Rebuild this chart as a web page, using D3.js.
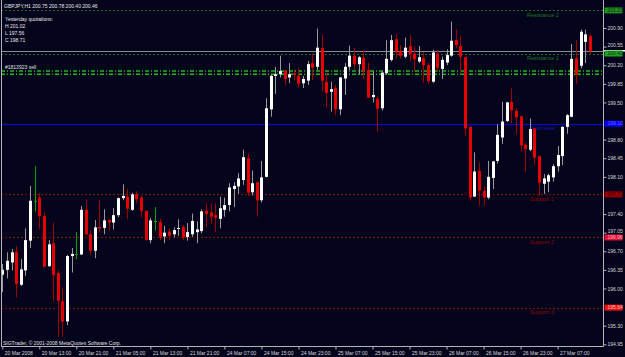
<!DOCTYPE html>
<html>
<head>
<meta charset="utf-8">
<script src="https://cdn.jsdelivr.net/npm/d3@7"></script>
<style>
body { margin: 0; background: #04041c; overflow: hidden; }
svg { display: block; }
text { font-family: 'Liberation Sans', Arial, sans-serif; }
</style>
</head>
<body>
<div id="mainDiv"></div>
<script>
'use strict';

// time axis labels, one every 8 H1 bars
var timeLabels = ['20 Mar 2008', '20 Mar 13:00', '20 Mar 21:00', '21 Mar 05:00', '21 Mar 13:00', '21 Mar 21:00',
    '24 Mar 07:00', '24 Mar 15:00', '24 Mar 23:00', '25 Mar 07:00', '25 Mar 15:00', '25 Mar 23:00',
    '26 Mar 07:00', '26 Mar 15:00', '26 Mar 23:00', '27 Mar 07:00'];

// GBPJPY H1 bars
var opens = [
    196.26, 196.35, 196.49, 196.69, 196.07, 196.34, 196.90, 197.64, 197.71, 197.36,
    196.42, 196.85, 196.29, 195.76, 195.38, 196.61, 196.64, 196.64, 197.48, 197.02,
    196.71, 197.16, 197.14, 197.29, 197.24, 197.38, 197.70, 197.73, 197.48, 197.77,
    197.71, 197.46, 196.91, 197.26, 197.25, 196.98, 197.07, 197.02, 197.12, 197.16,
    196.97, 197.02, 197.06, 197.08, 197.46, 197.43, 197.38, 197.31, 197.48, 197.57,
    197.87, 197.92, 198.04, 198.45, 197.81, 198.00, 197.66, 198.10, 199.37, 200.00,
    200.03, 200.10, 199.97, 200.05, 200.00, 199.86, 199.91, 200.24, 200.17, 200.52,
    199.89, 199.70, 199.77, 199.37, 199.95, 200.17, 200.38, 200.22, 200.34, 200.11,
    199.60, 199.57, 199.39, 200.05, 200.30, 200.69, 200.47, 200.36, 200.56, 200.42,
    200.27, 200.33, 200.20, 199.89, 200.42, 200.13, 200.25, 200.38, 200.67, 200.56,
    200.35, 199.04, 197.73, 198.21, 197.84, 197.71, 198.08, 198.40, 198.84, 199.15,
    199.51, 199.34, 199.24, 198.70, 198.61, 199.01, 198.49, 197.97, 198.01, 198.09,
    198.30, 198.49, 199.04, 199.23, 200.33, 200.19, 200.64, 200.75];
var highs = [
    196.46, 196.68, 196.74, 196.80, 196.55, 197.13, 197.93, 198.30, 197.79, 197.44,
    196.91, 197.24, 196.34, 196.02, 196.63, 196.76, 197.06, 197.55, 197.68, 197.09,
    197.29, 197.66, 197.49, 197.30, 197.51, 197.71, 197.96, 197.87, 197.80, 197.83,
    197.74, 197.47, 197.33, 197.53, 197.31, 197.18, 197.13, 197.15, 197.30, 197.19,
    197.23, 197.41, 197.26, 197.49, 197.61, 197.60, 197.61, 197.73, 197.71, 197.98,
    198.00, 198.17, 198.61, 198.55, 198.22, 198.01, 198.40, 199.58, 200.02, 200.17,
    200.38, 200.11, 200.24, 200.11, 200.14, 200.00, 200.28, 200.42, 200.89, 200.78,
    200.05, 199.89, 199.83, 199.98, 200.24, 200.57, 200.53, 200.37, 200.49, 200.25,
    200.09, 199.61, 200.09, 200.67, 200.77, 200.79, 200.58, 200.72, 200.77, 200.55,
    200.56, 200.45, 200.24, 200.49, 200.49, 200.36, 200.50, 201.02, 200.88, 200.74,
    200.36, 199.05, 198.56, 198.37, 197.93, 198.40, 198.40, 199.09, 199.51, 199.51,
    199.77, 199.38, 199.25, 198.74, 199.20, 199.02, 198.50, 198.15, 198.16, 198.34,
    198.68, 199.05, 199.28, 200.60, 200.67, 200.87, 200.87, 200.78];
var lows = [
    195.93, 196.19, 196.34, 195.83, 196.05, 196.24, 196.76, 197.45, 197.12, 196.40,
    196.41, 195.75, 195.09, 195.09, 195.31, 196.30, 196.55, 196.63, 197.01, 196.63,
    196.57, 197.05, 197.02, 197.09, 197.11, 197.34, 197.66, 197.30, 197.46, 197.60,
    197.34, 196.90, 196.85, 197.09, 196.91, 196.85, 196.91, 196.96, 196.99, 196.91,
    196.90, 196.97, 196.85, 197.04, 197.16, 197.21, 197.06, 197.13, 197.35, 197.45,
    197.53, 197.78, 197.95, 197.74, 197.75, 197.35, 197.62, 198.09, 199.23, 199.66,
    199.97, 199.82, 199.86, 199.92, 199.78, 199.77, 199.83, 199.92, 200.11, 199.70,
    199.41, 199.33, 199.26, 199.26, 199.64, 200.11, 200.12, 200.02, 199.94, 199.58,
    199.50, 198.95, 199.35, 200.02, 200.27, 200.33, 200.32, 200.33, 200.27, 200.08,
    200.24, 199.87, 199.85, 199.87, 200.08, 199.94, 200.20, 200.36, 200.52, 200.05,
    198.87, 197.65, 197.72, 197.56, 197.55, 197.68, 197.87, 198.35, 198.72, 199.13,
    199.11, 198.90, 198.59, 198.20, 198.58, 198.32, 197.75, 197.78, 197.81, 198.01,
    198.20, 198.32, 198.91, 199.22, 199.85, 200.14, 200.24, 200.40];
var closes = [
    196.35, 196.52, 196.68, 196.08, 196.36, 196.91, 197.65, 197.64, 197.36, 196.41,
    196.83, 196.25, 195.77, 195.38, 196.61, 196.65, 196.64, 197.48, 197.02, 196.71,
    197.15, 197.13, 197.28, 197.24, 197.38, 197.70, 197.74, 197.50, 197.77, 197.68,
    197.46, 196.91, 197.28, 197.26, 196.96, 197.05, 196.99, 197.10, 197.14, 196.96,
    197.06, 197.27, 197.11, 197.45, 197.40, 197.35, 197.33, 197.51, 197.57, 197.90,
    197.93, 198.07, 198.47, 197.80, 197.98, 197.66, 198.09, 199.39, 200.00, 200.03,
    200.09, 199.94, 200.03, 200.02, 199.85, 199.94, 200.22, 200.15, 200.53, 199.91,
    199.68, 199.75, 199.37, 199.97, 200.17, 200.38, 200.22, 200.35, 200.09, 199.59,
    199.64, 199.38, 200.06, 200.32, 200.67, 200.44, 200.38, 200.53, 200.41, 200.31,
    200.35, 200.20, 199.90, 200.44, 200.15, 200.30, 200.39, 200.66, 200.58, 200.36,
    199.01, 197.71, 198.20, 197.84, 197.71, 198.10, 198.39, 198.89, 199.14, 199.50,
    199.35, 199.22, 198.69, 198.62, 199.00, 198.46, 197.99, 198.07, 198.13, 198.30,
    198.51, 199.04, 199.26, 200.32, 200.02, 200.83, 200.78, 200.46];

// price scale ticks
var priceTicks = [194.95, 195.30, 195.65, 196.00, 196.35, 196.70, 197.05, 197.40, 197.75, 198.10,
    198.45, 198.80, 199.15, 199.50, 199.85, 200.20, 200.55, 200.90, 201.25];

// pivot indicator levels
var levelNames  = ['Resistance 2', 'Resistance 1', 'Pivot level', 'Support 1', 'Support 2', 'Support 3'];
var levelValues = [201.23, 200.42, 199.10, 197.77, 196.96, 195.64];

var bidPrice = 200.46;
var orderPrices = [200.09, 200.03];
var orderLabel = '#1813923 sell';
var titleText = 'GBPJPY,H1  200.75 200.78 200.40 200.46';
var infoLines = ['Yesterday quotations:', 'H 201.02', 'L 197.56', 'C 198.71'];
var copyText = 'SIGTrader, \u00a9 2001-2008 MetaQuotes Software Corp.';

var mt4 = {};

mt4.w = 625;
mt4.h = 357;
mt4.axisX = 603.5;   // price axis line
mt4.axisY = 346.5;   // time axis line
mt4.bodyW = 3;
mt4.boxH = 6;

mt4.bg = '#04041c';
mt4.levelLine  = ['#1c6e1c', '#1c6e1c', '#0000f0', '#7a0000', '#7a0000', '#7a0000'];
mt4.levelText  = ['#1f7a1f', '#1f7a1f', '#1515c8', '#8e0a0a', '#8e0a0a', '#8e0a0a'];
mt4.levelBox   = ['#1f8f1f', '#22a022', '#0000ff', '#960000', '#e0103a', '#f01010'];
mt4.levelBoxTx = ['#0c3a0c', '#0c3a0c', '#6a6aff', '#4a0000', '#ffb0b0', '#ffc0c0'];

mt4.appendSvg = function(div)
{
    var svg = d3.select(div).append('svg')
        .attr('width', mt4.w)
        .attr('height', mt4.h);

    svg.append('rect')
        .attr('width', mt4.w)
        .attr('height', mt4.h)
        .attr('fill', mt4.bg);

    return svg;
}

mt4.createScales = function()
{
    mt4.xScale = d3.scaleLinear().domain([0, opens.length - 1]).range([2.3, 590]);
    mt4.yScale = d3.scaleLinear().domain([194.95, 200.90]).range([344.3, 28]);
}

mt4.addLevels = function(svg)
{
    var y = mt4.yScale;

    levelValues.forEach(function(v, i) {
        svg.append('line')
            .attr('x1', 1).attr('x2', mt4.axisX)
            .attr('y1', Math.round(y(v)) + 0.5).attr('y2', Math.round(y(v)) + 0.5)
            .attr('stroke', mt4.levelLine[i])
            .attr('stroke-width', 1)
            .attr('stroke-dasharray', i == 2 ? null : '2,2');

        svg.append('text')
            .attr('x', i < 2 ? 527 : 530)
            .attr('y', y(v) + 6.3)
            .attr('fill', mt4.levelText[i])
            .style('font-size', '5.5px')
            .text(levelNames[i]);
    });

    // bid line
    svg.append('line')
        .attr('x1', 1).attr('x2', mt4.w)
        .attr('y1', Math.round(y(bidPrice)) + 0.5).attr('y2', Math.round(y(bidPrice)) + 0.5)
        .attr('stroke', '#8c8c8c');

    // order lines
    orderPrices.forEach(function(v) {
        svg.append('line')
            .attr('x1', 1).attr('x2', mt4.axisX)
            .attr('y1', y(v)).attr('y2', y(v))
            .attr('stroke', '#1fb81f')
            .attr('stroke-width', 1.4)
            .attr('stroke-dasharray', '4,2,1,2');
    });
}

mt4.appendCandles = function(svg)
{
    var x = mt4.xScale, y = mt4.yScale;
    var idx = d3.range(opens.length);

    var colour = function(i) {
        if (opens[i] == closes[i]) return 'doji';
        return closes[i] > opens[i] ? 'bull' : 'bear';
    };
    var wickCol = {bull: '#9a9a9a', bear: '#a00000', doji: '#10a010'};

    svg.selectAll('.wick')
        .data(idx)
        .enter()
        .append('line')
        .attr('class', 'wick')
        .attr('x1', function(i){ return Math.round(x(i)) + 0.5; })
        .attr('x2', function(i){ return Math.round(x(i)) + 0.5; })
        .attr('y1', function(i){ return y(highs[i]); })
        .attr('y2', function(i){ return y(lows[i]); })
        .attr('stroke', function(i){ return wickCol[colour(i)]; });

    svg.selectAll('.body')
        .data(idx.filter(function(i){ return colour(i) != 'doji'; }))
        .enter()
        .append('rect')
        .attr('class', 'body')
        .attr('x', function(i){ return Math.round(x(i)) + 0.5 - mt4.bodyW / 2; })
        .attr('y', function(i){ return y(Math.max(opens[i], closes[i])); })
        .attr('width', mt4.bodyW)
        .attr('height', function(i){ return Math.max(1, Math.abs(y(opens[i]) - y(closes[i]))); })
        .attr('fill', function(i){ return colour(i) == 'bull' ? '#ffffff' : '#e80000'; });

    svg.selectAll('.doji')
        .data(idx.filter(function(i){ return colour(i) == 'doji'; }))
        .enter()
        .append('line')
        .attr('class', 'doji')
        .attr('x1', function(i){ return Math.round(x(i)) - 1; })
        .attr('x2', function(i){ return Math.round(x(i)) + 2; })
        .attr('y1', function(i){ return y(opens[i]); })
        .attr('y2', function(i){ return y(opens[i]); })
        .attr('stroke', '#10a010');
}

mt4.createAxis = function(svg)
{
    var y = mt4.yScale;

    // frame
    svg.append('line').attr('x1', 1.5).attr('x2', 1.5).attr('y1', 0).attr('y2', mt4.axisY).attr('stroke', '#b4b4b4');
    svg.append('line').attr('x1', mt4.axisX).attr('x2', mt4.axisX).attr('y1', 0).attr('y2', mt4.axisY).attr('stroke', '#b4b4b4');
    svg.append('line').attr('x1', 1).attr('x2', mt4.axisX).attr('y1', mt4.axisY).attr('y2', mt4.axisY).attr('stroke', '#b4b4b4');

    // ticks that sit under a level box are covered in the terminal
    var shown = priceTicks.filter(function(t) {
        return levelValues.every(function(v){ return Math.abs(y(t) - y(v)) > 4; });
    });

    // small nudge for labels that touch a box
    var nudge = function(t) {
        var off = 0;
        levelValues.forEach(function(v) {
            var d = y(t) - y(v);
            if (Math.abs(d) < 7) off = d < 0 ? -1.6 : 1.6;
        });
        return off;
    };

    var yAxis = d3.axisRight(y)
        .tickValues(shown)
        .tickSize(3)
        .tickFormat(d3.format('.2f'));

    var yg = svg.append('g')
        .attr('transform', 'translate(' + mt4.axisX + ',0)')
        .call(yAxis);
    yg.select('.domain').remove();
    yg.selectAll('line').attr('stroke', '#b4b4b4');
    yg.selectAll('text')
        .attr('x', 4)
        .attr('y', function(t){ return nudge(t); })
        .attr('fill', '#d8d8d8')
        .style('font-size', '5px');

    var xAxis = d3.axisBottom(mt4.xScale)
        .tickValues(d3.range(0, opens.length, 8))
        .tickSize(3)
        .tickFormat(function(d, i){ return timeLabels[i]; });

    var xg = svg.append('g')
        .attr('transform', 'translate(0,' + mt4.axisY + ')')
        .call(xAxis);
    xg.select('.domain').remove();
    xg.selectAll('line').attr('stroke', '#b4b4b4');
    xg.selectAll('text')
        .attr('x', 2)
        .attr('y', 8.5)
        .attr('dy', null)
        .attr('text-anchor', 'start')
        .attr('fill', '#d8d8d8')
        .style('font-size', '5px');
}

mt4.addLevelBoxes = function(svg)
{
    var y = mt4.yScale;

    // bid marker on the price scale
    svg.append('line')
        .attr('x1', mt4.axisX).attr('x2', mt4.w)
        .attr('y1', Math.round(y(bidPrice)) - 0.5).attr('y2', Math.round(y(bidPrice)) - 0.5)
        .attr('stroke', '#f0f0f0');

    levelValues.forEach(function(v, i) {
        svg.append('rect')
            .attr('x', mt4.axisX + 1)
            .attr('y', y(v) - mt4.boxH / 2)
            .attr('width', 18)
            .attr('height', mt4.boxH)
            .attr('fill', mt4.levelBox[i]);

        svg.append('text')
            .attr('x', mt4.axisX + 4)
            .attr('y', y(v) + 1.8)
            .attr('fill', mt4.levelBoxTx[i])
            .style('font-size', '5px')
            .text(v.toFixed(2));
    });
}

mt4.addTexts = function(svg)
{
    svg.append('text')
        .attr('x', 4).attr('y', 7.8)
        .attr('fill', '#e8e8e8')
        .style('font-size', '5px')
        .text(titleText);

    svg.selectAll('.info')
        .data(infoLines)
        .enter()
        .append('text')
        .attr('class', 'info')
        .attr('x', 5)
        .attr('y', function(d, i){ return 21 + i * 6.9; })
        .attr('fill', '#e8e8e8')
        .style('font-size', '5px')
        .text(function(d){ return d; });

    svg.append('text')
        .attr('x', 5).attr('y', 69)
        .attr('fill', '#e0e0e0')
        .style('font-size', '5px')
        .text(orderLabel);

    svg.append('text')
        .attr('x', 3).attr('y', 344.8)
        .attr('fill', '#e0e0e0')
        .style('font-size', '5px')
        .text(copyText);
}

mt4.run = function()
{
    var svg = mt4.appendSvg('#mainDiv');
    mt4.createScales();
    mt4.addLevels(svg);
    mt4.appendCandles(svg);
    mt4.createAxis(svg);
    mt4.addLevelBoxes(svg);
    mt4.addTexts(svg);
}

window.onload = mt4.run;
</script>
</body>
</html>
